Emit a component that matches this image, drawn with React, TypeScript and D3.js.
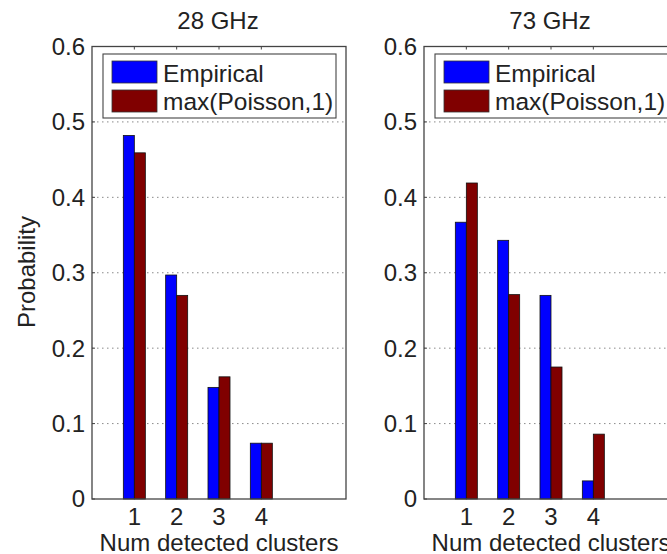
import React from "react";
import * as d3 from "d3";

const categories = [1, 2, 3, 4];
const seriesNames = ["Empirical", "max(Poisson,1)"];
const seriesColors = ["#0000ff", "#800000"];
const panelTitles = ["28 GHz", "73 GHz"];
const empirical28 = [0.482, 0.297, 0.148, 0.074];
const poisson28 = [0.459, 0.27, 0.162, 0.074];
const empirical73 = [0.367, 0.343, 0.27, 0.024];
const poisson73 = [0.419, 0.271, 0.175, 0.086];
const yTicks = [0, 0.1, 0.2, 0.3, 0.4, 0.5, 0.6];
const xTicks = [1, 2, 3, 4];

const W = 667;
const H = 554;
const FONT = "'Liberation Sans', Arial, Helvetica, sans-serif";

type PanelProps = { left: number; title: string; data: number[][] };

function Panel({ left, title, data }: PanelProps) {
  const top = 46.5;
  const bottom = 499;
  const width = 254;
  const x = d3.scaleLinear().domain([0, 6]).range([left, left + width]);
  const y = d3.scaleLinear().domain([0, 0.6]).range([bottom, top]);
  const bw = 0.26;
  const legX = left + 11;
  const legY = 54;
  const legW = 233;
  const legH = 64;
  return (
    <g>
      <rect x={left} y={top} width={width} height={bottom - top} fill="#fff" />
      {yTicks
        .filter((t) => t > 0 && t < 0.6)
        .map((t) => (
          <line
            key={"g" + t}
            x1={left}
            x2={left + width}
            y1={y(t)}
            y2={y(t)}
            stroke="#8a8a8a"
            strokeWidth={1}
            strokeDasharray="1.5,3.5"
          />
        ))}
      {categories.map((c, i) => (
        <g key={"b" + c}>
          <rect
            x={x(c - bw)}
            y={y(data[0][i])}
            width={x(c) - x(c - bw)}
            height={y(0) - y(data[0][i])}
            fill={seriesColors[0]}
            stroke="#111"
            strokeWidth={0.8}
          />
          <rect
            x={x(c)}
            y={y(data[1][i])}
            width={x(c + bw) - x(c)}
            height={y(0) - y(data[1][i])}
            fill={seriesColors[1]}
            stroke="#111"
            strokeWidth={0.8}
          />
        </g>
      ))}
      <rect x={left} y={top} width={width} height={bottom - top} fill="none" stroke="#444" strokeWidth={1.3} />
      {xTicks.map((t) => (
        <line key={"tt" + t} x1={x(t)} x2={x(t)} y1={top} y2={top + 3} stroke="#444" strokeWidth={1} />
      ))}
      {yTicks.map((t) => (
        <g key={"yt" + t}>
          <line x1={left} x2={left + 3} y1={y(t)} y2={y(t)} stroke="#444" strokeWidth={1} />
          <text
            x={left - 7}
            y={y(t)}
            dy="0.35em"
            textAnchor="end"
            fontSize={24}
            fontFamily={FONT}
            fill="#222"
          >
            {t === 0 ? "0" : d3.format(".1f")(t)}
          </text>
        </g>
      ))}
      {xTicks.map((t) => (
        <text key={"xl" + t} x={x(t)} y={525} textAnchor="middle" fontSize={24} fontFamily={FONT} fill="#222">
          {t}
        </text>
      ))}
      <text x={left + width / 2} y={551} textAnchor="middle" fontSize={24} fontFamily={FONT} fill="#222">
        Num detected clusters
      </text>
      <text x={left + width / 2 - 1} y={29} textAnchor="middle" fontSize={24} fontFamily={FONT} fill="#222">
        {title}
      </text>
      <rect x={legX} y={legY} width={legW} height={legH} fill="#fff" stroke="#444" strokeWidth={1.1} />
      {seriesNames.map((s, i) => (
        <g key={"l" + s}>
          <rect
            x={legX + 9}
            y={legY + 7 + i * 29}
            width={45}
            height={22}
            fill={seriesColors[i]}
            stroke="#333"
            strokeWidth={0.8}
          />
          <text x={legX + 60} y={legY + 28 + i * 28} fontSize={24.5} fontFamily={FONT} fill="#222">
            {s}
          </text>
        </g>
      ))}
    </g>
  );
}

export default function App() {
  return (
    <svg
      width={W}
      height={H}
      style={{ position: "absolute", left: 0, top: 0, background: "#fff" }}
    >
      <rect x={0} y={0} width={W} height={H} fill="#fff" />
      <text
        transform={`translate(35, 272) rotate(-90)`}
        textAnchor="middle"
        fontSize={24}
        fontFamily={FONT}
        fill="#222"
      >
        Probability
      </text>
      <Panel left={92} title={panelTitles[0]} data={[empirical28, poisson28]} />
      <Panel left={424} title={panelTitles[1]} data={[empirical73, poisson73]} />
    </svg>
  );
}
